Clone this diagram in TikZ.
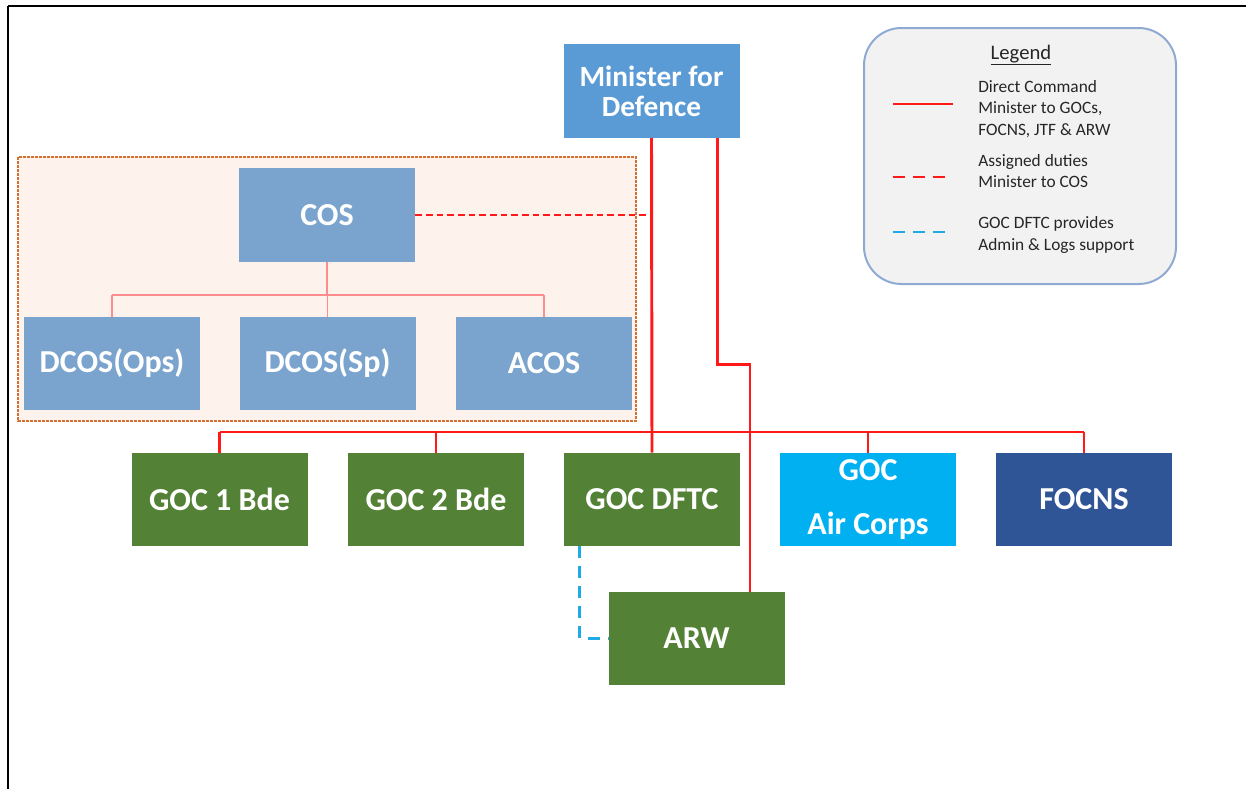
\documentclass[tikz,border=0pt]{standalone}
\usepackage{fontspec}
\setmainfont{Carlito}
\usepackage{xcolor}
\usepackage{tikz}
\usetikzlibrary{calc}
\definecolor{minblue}{RGB}{91,155,213}
\definecolor{staffblue}{RGB}{122,164,205}
\definecolor{armygreen}{RGB}{83,129,53}
\definecolor{aircyan}{RGB}{0,176,240}
\definecolor{navyblue}{RGB}{47,85,151}
\definecolor{cmdred}{RGB}{255,25,25}
\definecolor{supportblue}{RGB}{30,170,230}
\definecolor{staffpeach}{RGB}{253,243,236}
\definecolor{staffedge}{RGB}{212,112,50}
\definecolor{legendfill}{RGB}{242,242,242}
\definecolor{legendedge}{RGB}{143,170,210}

\begin{document}
\begin{tikzpicture}[x=0.75pt,y=-0.75pt,
  unit/.style={fill=#1, text=white, minimum width=132pt, minimum height=70pt, inner sep=0pt, align=center, font=\bfseries\fontsize{24}{29}\selectfont},
  staff/.style={unit=staffblue},
  cmd/.style={draw=cmdred, line width=2.2pt},
  tree/.style={draw=cmdred!50, line width=1.4pt},
  duty/.style={draw=cmdred, line width=2.2pt, dash pattern=on 5pt off 3pt},
  support/.style={draw=supportblue, line width=2.2pt, dash pattern=on 9pt off 6pt},
  legtext/.style={anchor=west, align=left, inner sep=0pt, text=black!85, font=\fontsize{13}{16.2}\selectfont}]
\useasboundingbox (0,0) rectangle (1246,789);
\draw[line width=2.2pt] (8,6) -- (1246,6);
\draw[line width=1.4pt] (8,6) -- (8,789);
% staff branch
\draw[staffedge, fill=staffpeach, line width=0.8pt, dash pattern=on 2pt off 1pt] (18,157) rectangle (636,421);
\node[unit=minblue, font=\bfseries\fontsize{22}{22.5}\selectfont] (min) at (651.5,91) {Minister for\\Defence};
\node[staff] (cos) at (327,215) {COS};
\node[staff] (ops) at (112,363.5) {DCOS(Ops)};
\node[staff] (sp) at (327.5,363.5) {DCOS(Sp)};
\node[staff] (acos) at (544,363.5) {ACOS};
% commands
\node[unit=armygreen] (g1) at (219.5,499.5) {GOC 1 Bde};
\node[unit=armygreen] (g2) at (436,499.5) {GOC 2 Bde};
\node[unit=armygreen] (dftc) at (652,499.5) {GOC DFTC};
\node[unit=aircyan, font=\bfseries\fontsize{24}{40}\selectfont] (air) at (868,499.5) {GOC\\Air Corps};
\node[unit=navyblue] (focns) at (1084,499.5) {FOCNS};
\node[unit=armygreen] (arw) at (696.5,638.5) {ARW};
% links
\coordinate (treebar) at (0,295);
\coordinate (bus) at (0,432);
\draw[tree] (cos.south) -- (cos.south |- treebar);
\draw[tree] (ops.north |- treebar) -- (acos.north |- treebar);
\foreach \n in {ops,sp,acos} \draw[tree] (\n.north |- treebar) -- (\n.north);
\draw[duty] (cos.east) -- (cos.east -| min.south);
\draw[cmd] (g1.north |- bus) -- (focns.north |- bus);
\foreach \n in {g1,g2,air,focns} \draw[cmd] (\n.north |- bus) -- (\n.north);
\draw[cmd] (min.south) -- (dftc.north);
\draw[cmd] ($(min.south)+(66,0)$) -- ++(0,227) -| ($(arw.north)+(53.5,0)$);
\draw[support] ($(dftc.south west)+(16,0)$) |- (arw.west);
% legend
\node[draw=legendedge, line width=1.5pt, fill=legendfill, rounded corners=28pt, minimum width=234pt, minimum height=192pt] (legend) at (1020,156) {};
\node[text=black!85, font=\fontsize{15.5}{18}\selectfont] (legtitle) at (1021,55) {\underline{Legend}};
\node[legtext] (leg1) at (978,109) {Direct Command\\Minister to GOCs,\\FOCNS, JTF \& ARW};
\node[legtext] (leg2) at (978,171) {Assigned duties\\Minister to COS};
\node[legtext] (leg3) at (978,235) {GOC DFTC provides\\Admin \& Logs support};
\coordinate (k1a) at (893,104); \coordinate (k1b) at (953,104);
\coordinate (k2a) at (893,177); \coordinate (k2b) at (950,177);
\coordinate (k3a) at (893,232); \coordinate (k3b) at (950,232);
\draw[cmd] (k1a) -- (k1b);
\draw[cmd, dash pattern=on 9pt off 6pt] (k2a) -- (k2b);
\draw[support] (k3a) -- (k3b);
\end{tikzpicture}
\end{document}
